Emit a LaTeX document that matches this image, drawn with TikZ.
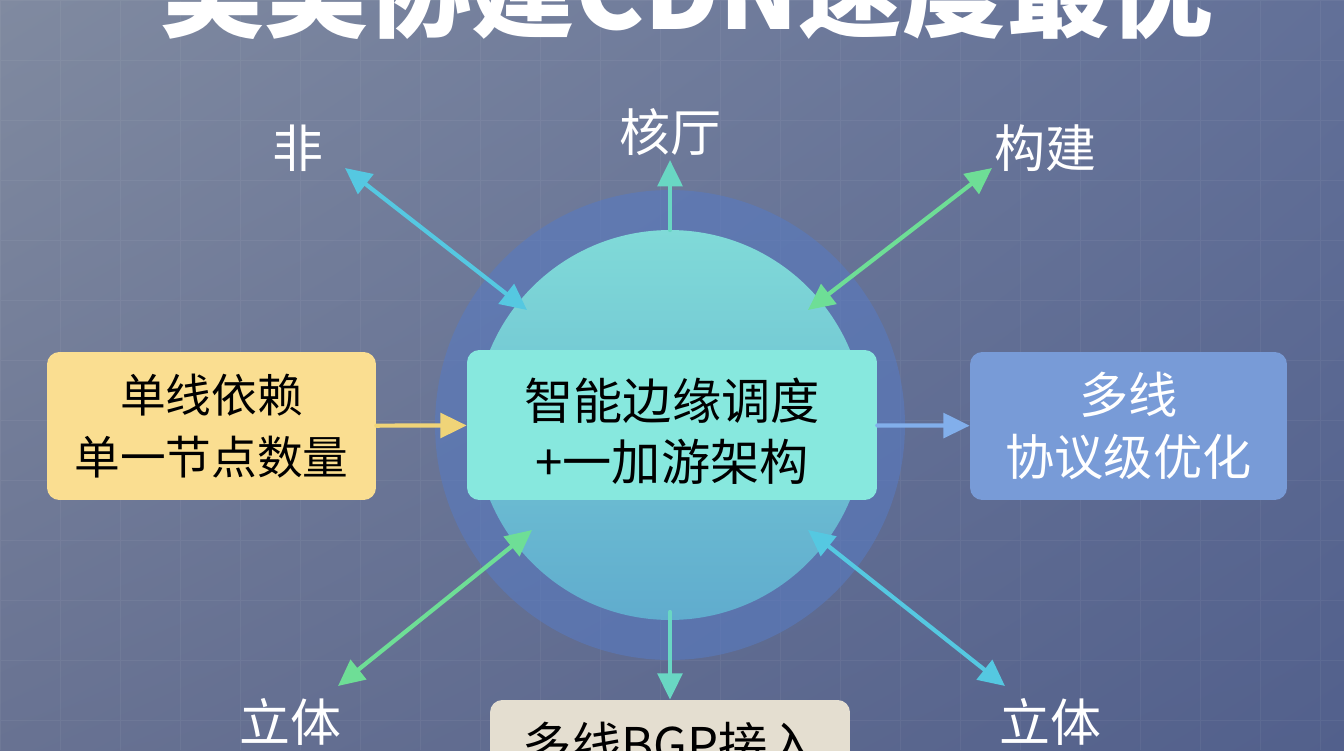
\documentclass[tikz,border=0pt]{standalone}
\usepackage{fontspec}
\setmainfont{Noto Sans CJK SC}
\usepackage{xcolor}
\usepackage{tikz}
\usetikzlibrary{arrows.meta,calc,positioning,shadings}

\definecolor{bgTL}{RGB}{128,138,160}
\definecolor{bgTR}{RGB}{98,112,152}
\definecolor{bgBL}{RGB}{104,114,146}
\definecolor{bgBR}{RGB}{82,96,140}
\definecolor{haloblue}{RGB}{88,122,192}
\definecolor{ringtop}{RGB}{128,218,216}
\definecolor{ringbot}{RGB}{96,172,206}
\definecolor{hubfill}{RGB}{135,232,222}
\definecolor{singlefill}{RGB}{250,222,145}
\definecolor{multifill}{RGB}{120,155,215}
\definecolor{bgpfill}{RGB}{228,222,208}
\definecolor{yellowline}{RGB}{240,212,120}
\definecolor{blueline}{RGB}{130,175,235}
\definecolor{tealline}{RGB}{105,215,195}
\definecolor{cyanline}{RGB}{85,200,225}
\definecolor{greenline}{RGB}{110,222,150}

\begin{document}
\begin{tikzpicture}[x=0.02cm,y=-0.02cm,line cap=round,line join=round,>={Triangle[length=15pt,width=14pt]},
  box/.style={rounded corners=7pt,inner sep=0pt,align=center,font=\fontsize{26}{35}\selectfont},
  lbl/.style={text=white,font=\fontsize{29}{30}\selectfont},
  link/.style={line width=2.4pt}]
\useasboundingbox (0,0) rectangle (1344,750);
% background
\shade[upper left=bgTL,upper right=bgTR,lower left=bgBL,lower right=bgBR] (0,0) rectangle (1344,750);
\draw[step=1.2cm,white,opacity=0.05,very thin] (0,0) grid (1344,750);
\node[text=white,anchor=base,font=\fontsize{59}{59}\selectfont\bfseries] (title) at (687,30) {美美协建CDN速度最优};
% rings
\fill[haloblue,opacity=0.6] (670,425) circle (4.7cm);
\shade[top color=ringtop,bottom color=ringbot] (670,425) circle (3.9cm);
% boxes
\node[box,fill=hubfill,minimum width=8.2cm,minimum height=3cm] (hub) at (672,425) {};
\node[font=\fontsize{28}{35}\selectfont,align=center] (hubtext) at (672,431) {智能边缘调度\\+一加游架构};
\node[box,fill=singlefill,minimum width=6.58cm,minimum height=2.96cm] (single) at (211.5,426) {单线依赖\\单一节点数量};
\node[box,fill=multifill,text=white,minimum width=6.34cm,minimum height=2.96cm,font=\fontsize{28}{35}\selectfont] (multi) at (1128.5,426) {多线\\协议级优化};
\node[box,fill=bgpfill,minimum width=7.2cm,minimum height=1.8cm,font=\fontsize{28}{35}\selectfont] (bgp) at (670,745) {多线BGP接入};
% labels
\node[lbl] (nw) at (298,148) {非};
\node[lbl] (n) at (670,132) {核厅};
\node[lbl] (ne) at (1045,148) {构建};
\node[lbl] (sw) at (290,722) {立体};
\node[lbl] (se) at (1050,722) {立体};
\coordinate (nIn) at (670,230); \coordinate (nOut) at (670,160);
\coordinate (sIn) at (670,612);
\coordinate (nwIn) at (527,310); \coordinate (nwOut) at (345,168);
\coordinate (neIn) at (808,310); \coordinate (neOut) at (992,168);
\coordinate (swIn) at (532,530); \coordinate (swOut) at (338,686);
\coordinate (seIn) at (808,530); \coordinate (seOut) at (1005,686);
% arrows
\draw[link,->,yellowline] (single) -- (hub);
\draw[link,->,blueline] (hub) -- (multi);
\draw[link,->,tealline] (nIn) -- (nOut);
\draw[link,->,tealline] (sIn) -- (bgp);
\draw[link,<->,cyanline] (nwIn) -- (nwOut);
\draw[link,<->,greenline] (neIn) -- (neOut);
\draw[link,<->,greenline] (swIn) -- (swOut);
\draw[link,<->,cyanline] (seIn) -- (seOut);
\end{tikzpicture}
\end{document}
